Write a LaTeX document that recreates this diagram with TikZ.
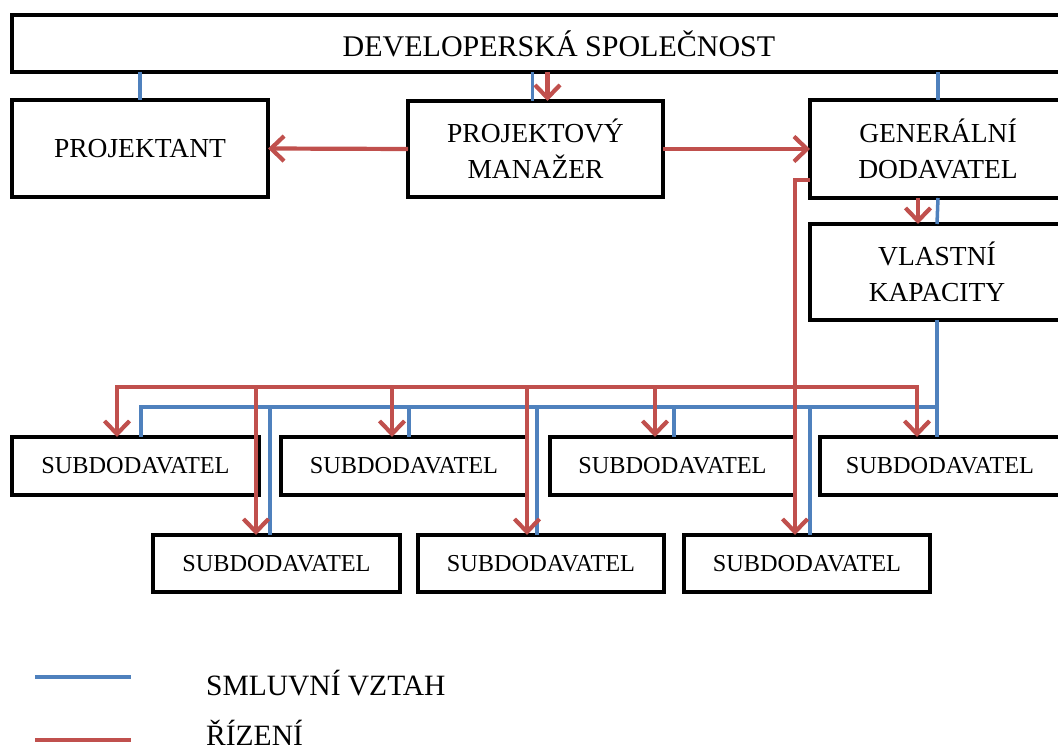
\documentclass[tikz,border=0pt]{standalone}
\usepackage{fontspec}
\setmainfont{Liberation Serif}
\usetikzlibrary{arrows.meta,calc}
\definecolor{rblue}{HTML}{4F81BD}
\definecolor{rred}{HTML}{C0504D}
\begin{document}
\begin{tikzpicture}[x=1pt,y=-1pt,
  box/.style={draw=black, line width=3.5pt, inner sep=0pt, outer sep=0pt, anchor=north west,
    font=\fontsize{27.5}{36}\selectfont, align=center},
  subbox/.style={box, font=\fontsize{24.3}{28}\selectfont},
  smluv/.style={draw=rblue, line width=3.5pt},
  rizeni/.style={draw=rred, line width=4.2pt, -{Straight Barb[length=13pt,width=25pt]}},
  redline/.style={draw=rred, line width=4.2pt},
  legtext/.style={anchor=base west, inner sep=0pt, font=\fontsize{29.5}{30}\selectfont},
  ]
\clip (0,0) rectangle (1058,751);
% boxes
\node[box, minimum width=1094pt, minimum height=57pt, font=\fontsize{30}{36}\selectfont] (dev) at (12,15) {DEVELOPERSKÁ SPOLEČNOST};
\node[box, minimum width=256pt, minimum height=97pt] (proj) at (12,100) {PROJEKTANT};
\node[box, minimum width=255pt, minimum height=96pt] (pm) at (408,101) {PROJEKTOVÝ\\MANAŽER};
\node[box, minimum width=256pt, minimum height=98pt] (gd) at (810,100) {GENERÁLNÍ\\DODAVATEL};
\node[box, minimum width=254pt, minimum height=96pt] (vk) at (810,224) {VLASTNÍ\\KAPACITY};
\node[subbox, minimum width=247pt, minimum height=58pt] (s1) at (12,437) {SUBDODAVATEL};
\node[subbox, minimum width=246pt, minimum height=58pt] (s2) at (281,437) {SUBDODAVATEL};
\node[subbox, minimum width=245pt, minimum height=58pt] (s3) at (550,437) {SUBDODAVATEL};
\node[subbox, minimum width=240pt, minimum height=58pt] (s4) at (820,437) {SUBDODAVATEL};
\node[subbox, minimum width=247pt, minimum height=57pt] (r1) at (153,535) {SUBDODAVATEL};
\node[subbox, minimum width=246pt, minimum height=57pt] (r2) at (418,535) {SUBDODAVATEL};
\node[subbox, minimum width=246pt, minimum height=57pt] (r3) at (684,535) {SUBDODAVATEL};
% bus levels
\coordinate (rb) at (0,387);
\coordinate (bb) at (0,407);
% blue: contractual relations
\draw[smluv] (dev.south -| proj.north) -- (proj.north);
\draw[smluv] ([xshift=-3pt]pm.north |- dev.south) -- ([xshift=-3pt]pm.north);
\draw[smluv] (gd.north |- dev.south) -- (gd.north);
\draw[smluv] (gd.south) -- (vk.north);
\draw[smluv] (vk.south) -- (vk.south |- s4.north);
\draw[smluv] (vk.south |- bb) -- ([xshift=5.5pt]s1.north |- bb) -- ([xshift=5.5pt]s1.north);
\draw[smluv] ([xshift=5pt]s2.north |- bb) -- ([xshift=5pt]s2.north);
\draw[smluv] ([xshift=1.5pt]s3.north |- bb) -- ([xshift=1.5pt]s3.north);
\draw[smluv] ([xshift=-6.5pt]r1.north |- bb) -- ([xshift=-6.5pt]r1.north);
\draw[smluv] ([xshift=-4pt]r2.north |- bb) -- ([xshift=-4pt]r2.north);
\draw[smluv] ([xshift=3pt]r3.north |- bb) -- ([xshift=3pt]r3.north);
% red: management
\draw[rizeni] (pm.west) -- (proj.east);
\draw[rizeni] (pm.east) -- (gd.west);
\draw[rizeni] ([xshift=12pt]pm.north |- dev.south) -- ([xshift=12pt]pm.north);
\draw[rizeni] ([xshift=-20pt]gd.south) -- ([xshift=-20pt]gd.south |- vk.north);
\draw[rizeni] ([yshift=-31pt]gd.west) -| ([xshift=-12pt]r3.north);
\draw[rizeni, {Straight Barb[length=13pt,width=25pt]}-{Straight Barb[length=13pt,width=25pt]}]
  ([xshift=-18.5pt]s1.north) -- ([xshift=-18.5pt]s1.north |- rb) -- ([xshift=-23pt]s4.north |- rb) -- ([xshift=-23pt]s4.north);
\draw[rizeni] ([xshift=-12pt]s2.north |- rb) -- ([xshift=-12pt]s2.north);
\draw[rizeni] ([xshift=-17.5pt]s3.north |- rb) -- ([xshift=-17.5pt]s3.north);
\draw[rizeni] ([xshift=-20.5pt]r1.north |- rb) -- ([xshift=-20.5pt]r1.north);
\draw[rizeni] ([xshift=-14pt]r2.north |- rb) -- ([xshift=-14pt]r2.north);
% legend
\coordinate (l1a) at (35,677); \coordinate (l1b) at (131,677);
\coordinate (l2a) at (35,740); \coordinate (l2b) at (131,740);
\draw[smluv, line width=4pt] (l1a) -- (l1b);
\draw[redline] (l2a) -- (l2b);
\node[legtext] (lt1) at (206,695) {SMLUVNÍ VZTAH};
\node[legtext] (lt2) at (206,745) {ŘÍZENÍ};
\end{tikzpicture}
\end{document}
